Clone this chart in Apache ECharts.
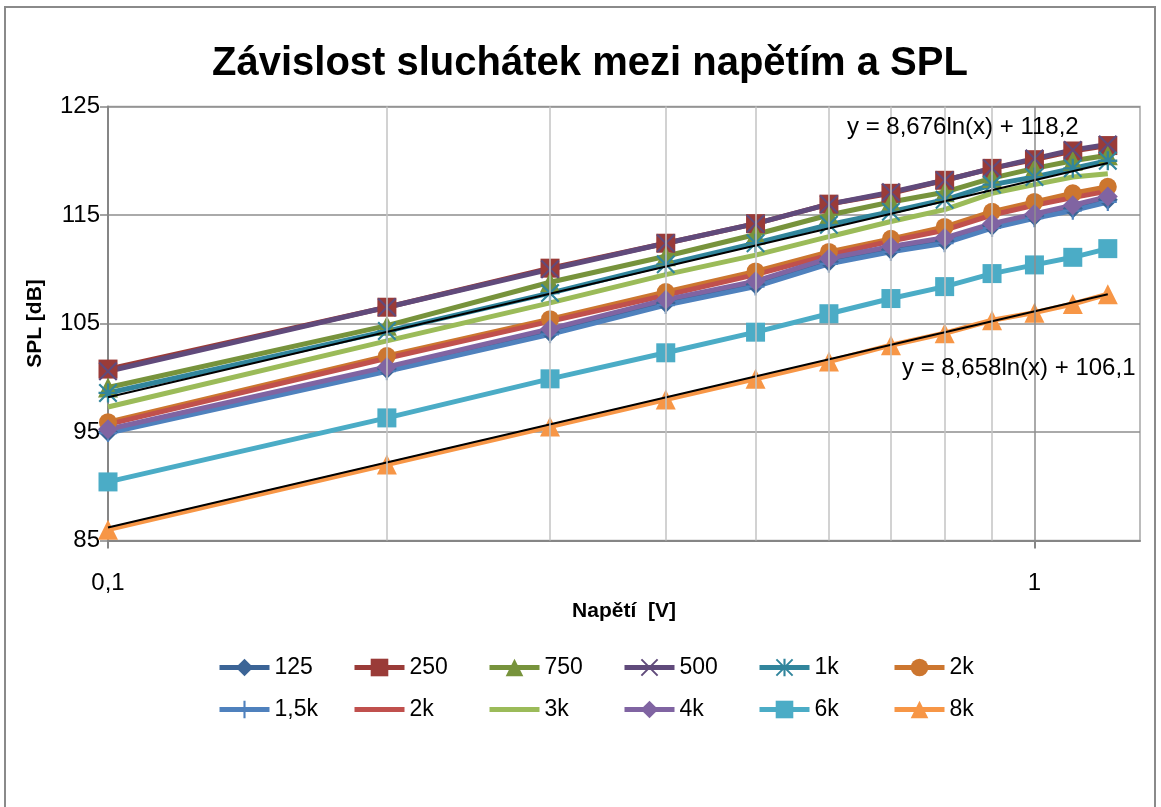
<!DOCTYPE html>
<html>
<head>
<meta charset="utf-8">
<title>Závislost sluchátek mezi napětím a SPL</title>
<script src="https://cdn.jsdelivr.net/npm/echarts@6/dist/echarts.min.js"></script>
<style>
  html, body { margin: 0; padding: 0; background: #fff; }
  #chart { width: 1161px; height: 807px; }
</style>
</head>
<body>
<div id="chart"></div>
<script>
// napětí [V]
const xValues = [0.1, 0.2, 0.3, 0.4, 0.5, 0.6, 0.7, 0.8, 0.9, 1.0, 1.1, 1.2];

// SPL [dB] pro jednotlivé frekvence
const spl125 = [95.0, 100.8, 104.2, 106.9, 108.6, 110.7, 111.8, 112.6, 114.0, 114.9, 115.6, 116.4];
const spl250 = [100.8, 106.5, 110.1, 112.4, 114.2, 116.0, 117.0, 118.2, 119.3, 120.1, 120.9, 121.4];
const spl750 = [99.1, 104.8, 108.8, 111.2, 113.2, 115.0, 116.2, 117.1, 118.4, 119.3, 120.0, 120.5];
const spl500 = [100.6, 106.5, 110.0, 112.4, 114.2, 116.0, 117.1, 118.2, 119.3, 120.2, 121.0, 121.5];
const spl1k = [98.6, 104.3, 107.8, 110.45, 112.4, 114.1, 115.3, 116.4, 117.8, 118.5, 119.3, 120.0];
const spl2k = [95.9, 102.0, 105.4, 107.9, 109.8, 111.6, 112.8, 113.9, 115.3, 116.2, 117.0, 117.6];
const spl1k5 = [94.9, 100.6, 104.0, 106.7, 108.4, 110.5, 111.6, 112.4, 113.8, 114.7, 115.4, 116.2];
const spl2kB = [95.7, 101.8, 105.2, 107.6, 109.5, 111.3, 112.6, 113.6, 115.0, 115.9, 116.6, 117.2];
const spl3k = [97.3, 103.4, 106.9, 109.5, 111.3, 113.0, 114.4, 115.5, 117.0, 117.8, 118.5, 118.8];
const spl4k = [95.25, 101.0, 104.5, 107.2, 108.9, 111.0, 112.1, 112.9, 114.2, 115.1, 115.9, 116.7];
const spl6k = [90.4, 96.3, 99.9, 102.3, 104.2, 105.9, 107.3, 108.4, 109.6, 110.4, 111.1, 111.9];
const spl8k = [86.0, 92.0, 95.5, 98.0, 99.9, 101.5, 103.0, 104.1, 105.3, 106.0, 106.8, 107.7];

// spojnice trendu (krajní body)
const trendX = [0.1, 1.2];
const trendUpper = [98.2, 119.8];
const trendLower = [86.2, 107.7];
const trendLabels = ['y = 8,676ln(x) + 118,2', 'y = 8,658ln(x) + 106,1'];

// osy
const yTicks = [85, 95, 105, 115, 125];
const xLabelValues = [0.1, 1];
const xMinorGrid = [0.2, 0.3, 0.4, 0.5, 0.6, 0.7, 0.8, 0.9];
const xMajorGrid = [1];

// symboly markerů
const plusPath = 'path://M4.4,0H5.6V4.4H10V5.6H5.6V10H4.4V5.6H0V4.4H4.4Z';
const crossPath = 'path://M0,0.8L0.8,0L10,9.2L9.2,10Z M9.2,0L10,0.8L0.8,10L0,9.2Z';
const starPath = 'path://M0,0.8L0.8,0L10,9.2L9.2,10Z M9.2,0L10,0.8L0.8,10L0,9.2Z M4.4,0H5.6V4.4H10V5.6H5.6V10H4.4V5.6H0V4.4H4.4Z';

const seriesDefs = [
  { name: '125', data: spl125, color: '#3B6496', symbol: 'diamond', size: 20 },
  { name: '250', data: spl250, color: '#9A3B38', symbol: 'rect', size: 19 },
  { name: '750', data: spl750, color: '#77933C', symbol: 'triangle', size: 20 },
  { name: '500', data: spl500, color: '#604A7B', symbol: crossPath, size: 19 },
  { name: '1k', data: spl1k, color: '#31859C', symbol: starPath, size: 19 },
  { name: '2k', data: spl2k, color: '#CC762F', symbol: 'circle', size: 18 },
  { name: '1,5k', data: spl1k5, color: '#4F81BD', symbol: plusPath, size: 18 },
  { name: '2k ', data: spl2kB, color: '#C0504D', symbol: 'none', size: 0 },
  { name: '3k', data: spl3k, color: '#9BBB59', symbol: 'none', size: 0 },
  { name: '4k', data: spl4k, color: '#8064A2', symbol: 'diamond', size: 20 },
  { name: '6k', data: spl6k, color: '#4BACC6', symbol: 'rect', size: 19 },
  { name: '8k', data: spl8k, color: '#F79646', symbol: 'triangle', size: 20 }
];

const font = 'Liberation Sans';
const pair = (xs, ys) => xs.map((x, i) => [x, ys[i]]);

const series = [{
  // svislá mřížka logaritmické osy
  type: 'line',
  data: [],
  z: 1,
  silent: true,
  markLine: {
    silent: true,
    symbol: ['none', 'none'],
    label: { show: false },
    animation: false,
    data: xMinorGrid.map(v => ({ xAxis: v, lineStyle: { color: '#C3C3C3', width: 1.5, type: 'solid' } }))
      .concat(xMajorGrid.map(v => ({ xAxis: v, lineStyle: { color: '#8E8E8E', width: 1.5, type: 'solid' } })))
  }
}];

seriesDefs.forEach(s => {
  series.push({
    name: s.name,
    type: 'line',
    data: pair(xValues, s.data),
    symbol: s.symbol,
    symbolSize: s.size,
    showSymbol: s.symbol !== 'none',
    lineStyle: { color: s.color, width: 5 },
    itemStyle: { color: s.color },
    z: 3
  });
});

[trendUpper, trendLower].forEach(t => {
  series.push({
    type: 'line',
    data: pair(trendX, t),
    symbol: 'none',
    lineStyle: { color: '#000', width: 2 },
    z: 4,
    silent: true
  });
});

// legenda: 2 řádky po 6 položkách, zarovnané do sloupců
const legends = seriesDefs.map((s, i) => {
  const lg = {
    data: [s.name],
    left: 212 + (i % 6) * 135,
    top: i < 6 ? 651 : 693,
    itemWidth: 50,
    itemHeight: 22,
    lineStyle: { width: 5 },
    textStyle: { fontFamily: font, fontSize: 23, color: '#000' }
  };
  if (s.symbol === 'none') lg.itemStyle = { opacity: 0 };
  return lg;
});

const option = {
  animation: false,
  backgroundColor: '#fff',
  title: {
    text: 'Závislost sluchátek mezi napětím a SPL',
    left: 207,
    top: 39,
    textStyle: { fontFamily: font, fontSize: 40, fontWeight: 'bold', color: '#000' }
  },
  grid: {
    left: 108,
    right: 21,
    top: 106.5,
    bottom: 266.5,
    show: true,
    borderColor: '#A6A6A6',
    borderWidth: 1.5
  },
  legend: legends,
  xAxis: {
    type: 'log',
    logBase: 10,
    min: 0.1,
    max: 1.3,
    name: 'Napětí  [V]',
    nameLocation: 'middle',
    nameGap: 52,
    nameTextStyle: { fontFamily: font, fontSize: 21, fontWeight: 'bold', color: '#000' },
    axisLine: { lineStyle: { color: '#868686', width: 2 } },
    axisTick: { show: true, customValues: xLabelValues, length: 8, lineStyle: { color: '#868686', width: 2 } },
    axisLabel: {
      customValues: xLabelValues,
      margin: 31,
      fontFamily: font,
      fontSize: 24,
      color: '#000',
      formatter: v => Math.abs(v - 0.1) < 1e-6 ? '0,1' : (Math.abs(v - 1) < 1e-6 ? '1' : '')
    },
    splitLine: { show: false },
    minorTick: { show: false },
    minorSplitLine: { show: false }
  },
  yAxis: {
    type: 'value',
    min: yTicks[0],
    max: yTicks[yTicks.length - 1],
    interval: yTicks[1] - yTicks[0],
    name: 'SPL [dB]',
    nameLocation: 'middle',
    nameGap: 62,
    nameTextStyle: { fontFamily: font, fontSize: 21, fontWeight: 'bold', color: '#000' },
    axisLine: { show: true, lineStyle: { color: '#868686', width: 2 } },
    axisTick: { show: true, length: 8, lineStyle: { color: '#868686', width: 1.5 } },
    axisLabel: { margin: 8, fontFamily: font, fontSize: 24, color: '#000' },
    splitLine: { show: true, lineStyle: { color: '#8E8E8E', width: 1.5 } }
  },
  graphic: [
    {
      type: 'rect',
      shape: { x: 5, y: 7, width: 1150, height: 812 },
      style: { fill: 'none', stroke: '#8A8A8A', lineWidth: 2 },
      silent: true,
      z: -10
    },
    {
      type: 'text',
      left: 847,
      top: 115,
      style: { text: trendLabels[0], fontFamily: font, fontSize: 24, fill: '#000' },
      z: 10
    },
    {
      type: 'text',
      left: 902,
      top: 356,
      style: { text: trendLabels[1], fontFamily: font, fontSize: 24, fill: '#000' },
      z: 10
    }
  ],
  series: series
};

const myChart = echarts.init(document.getElementById('chart'));
myChart.setOption(option);
</script>
</body>
</html>
